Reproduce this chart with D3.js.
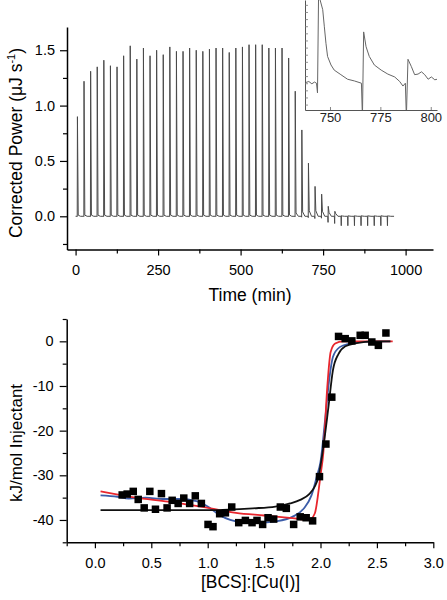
<!DOCTYPE html>
<html><head><meta charset="utf-8">
<script src="https://cdn.jsdelivr.net/npm/d3@7"></script>
<style>
body{margin:0;background:#fff}
text{font-family:"Liberation Sans",Arial,Helvetica,sans-serif}
</style>
</head><body>
<svg id="c" width="447" height="600"></svg>
<script>
// ---------- Top panel: thermogram ----------
const injTimes = [5,25,45,65,85,105,125,145,165,185,205,225,245,265,285,305,325,345,365,385,405,425,445,465,485,505,525,545,565,585,605,625,645,665,685,705,725,745,765,785,805,825,845,865,885,905,925,945];
const peakHeights = [0.90,1.22,1.31,1.35,1.41,1.36,1.35,1.45,1.54,1.42,1.52,1.45,1.50,1.46,1.53,1.49,1.49,1.52,1.50,1.49,1.51,1.52,1.52,1.48,1.52,1.53,1.55,1.55,1.55,1.52,1.52,1.52,1.43,1.13,0.78,0.48,0.27,0.20,0.09,0.045,0.006,0.005,0.006,0.005,0.006,0.005,0.006,0.005];
const dipDepths = [0.003,0.003,0.003,0.003,0.003,0.003,0.003,0.003,0.003,0.003,0.003,0.003,0.003,0.003,0.003,0.003,0.003,0.003,0.003,0.003,0.003,0.003,0.003,0.003,0.003,0.003,0.003,0.003,0.003,0.003,0.003,0.003,0.003,0.005,0.008,0.012,0.02,0.017,0.055,0.065,0.085,0.085,0.085,0.085,0.085,0.085,0.085,0.085];
const tailAt3 = [0.01,0.01,0.01,0.01,0.01,0.01,0.01,0.01,0.01,0.01,0.01,0.01,0.01,0.01,0.01,0.01,0.01,0.01,0.01,0.01,0.01,0.01,0.01,0.01,0.01,0.01,0.01,0.01,0.01,0.01,0.01,0.01,0.012,0.03,0.04,0.05,0.05,0.045,0.035,0.025,0.003,0.003,0.003,0.003,0.003,0.003,0.003,0.003];
const traceStart = 0, traceEnd = 965;
const topXTicks = [0,250,500,750,1000];
const topXMinor = [125,375,625,875];
const topYTicks = [0.0,0.5,1.0,1.5];
const topYMinor = [-0.25,0.25,0.75,1.25];

// ---------- Inset ----------
const insetTime  = [737.8,739.5,741.0,742.3,743.3,743.8,744.5,745.1,746.4,747.2,748.0,748.8,750.5,752.1,755.4,758.7,762.1,765.6,766.1,766.7,767.9,769.5,772.0,775.4,778.7,782.1,784.6,786.2,787.4,787.9,788.7,790.4,792.0,793.7,795.4,797.0,798.7,800.3,802.0,803.2];
const insetPower = [0.001,0.003,-0.001,0.002,0.000,-0.017,0.21,0.146,0.129,0.099,0.070,0.047,0.032,0.023,0.015,0.007,0.004,0.000,-0.06,0.090,0.064,0.047,0.032,0.023,0.016,0.011,0.003,-0.005,0.000,-0.06,0.042,0.029,0.015,0.016,0.020,0.015,0.007,0.011,0.006,0.007];
const insetXTicks = [750,775,800];
const insetYTicks = [-0.0375,-0.025,-0.0125,0,0.0125,0.025,0.0375,0.05,0.0625,0.075,0.0875,0.1,0.1125,0.125,0.1375];

// ---------- Bottom panel: binding isotherm ----------
const ratio = [0.242,0.286,0.34,0.384,0.437,0.487,0.537,0.59,0.64,0.685,0.738,0.788,0.84,0.89,0.944,1.003,1.047,1.106,1.157,1.213,1.275,1.334,1.393,1.437,1.487,1.535,1.585,1.644,1.697,1.762,1.82,1.873,1.93,1.991,2.048,2.10,2.16,2.219,2.278,2.352,2.396,2.455,2.513,2.58];
const heat  = [-34.4,-34.2,-33.6,-35.4,-37.3,-33.6,-37.6,-34.1,-37.3,-35.6,-36.3,-35.1,-36.3,-34.6,-36.3,-41.0,-41.5,-38.6,-38.4,-37.1,-40.6,-40.1,-40.6,-40.1,-41.0,-39.5,-39.8,-37.1,-37.4,-41.0,-39.3,-39.5,-40.2,-30.3,-23.0,-12.5,1.1,0.6,0.1,1.35,1.35,-0.15,-0.9,1.87];
const fitBlueX = [0.05,0.2,0.3,0.45,0.6,0.75,0.9,1.0,1.1,1.2,1.3,1.45,1.6,1.75,1.85,1.92,1.97,2.0,2.04,2.08,2.11,2.17,2.26,2.38,2.62];
const fitBlueY = [-34.5,-34.8,-35.2,-35.0,-35.3,-35.3,-35.8,-37.0,-38.8,-40.0,-40.5,-40.6,-40.3,-39.3,-37.5,-34.5,-30.0,-27.0,-17.8,-8.0,-3.5,-1.3,-0.5,-0.1,0.0];
const fitRedX = [0.05,0.36,0.65,0.98,1.25,1.5,1.75,1.9,1.95,1.98,2.0,2.025,2.06,2.09,2.13,2.2,2.64];
const fitRedY = [-33.6,-35.0,-35.9,-37.2,-38.4,-39.0,-39.6,-40.0,-38.5,-34.0,-30.0,-25.0,-10.3,-2.4,-0.5,0.0,0.0];
const fitBlackX = [0.05,1.0,1.4,1.6,1.73,1.82,1.9,1.95,1.98,2.025,2.07,2.11,2.16,2.22,2.32,2.47,2.62];
const fitBlackY = [-37.8,-37.8,-37.4,-37.0,-36.3,-35.5,-34.2,-32.5,-30.5,-23.7,-14.8,-6.5,-2.8,-1.1,-0.4,0.0,0.0];
const botXTicks = [0,0.5,1.0,1.5,2.0,2.5,3.0];
const botXMinor = [-0.25,0.25,0.75,1.25,1.75,2.25,2.75];
const botYTicks = [0,-10,-20,-30,-40];
const botYMinor = [5,-5,-15,-25,-35,-45];

// ============ drawing ============
const svg = d3.select("#c");

function styleAxis(g, w){
  g.select(".domain").attr("stroke","#000").attr("stroke-width",w||1.5);
  g.selectAll(".tick line").attr("stroke","#000").attr("stroke-width",1.2);
  g.selectAll(".tick text").attr("fill","#000").style("font-family",'"Liberation Sans",Arial,sans-serif');
}

// ----- top panel -----
const xT = d3.scaleLinear().domain([-26, 1083]).range([67, 433]);
const yT = d3.scaleLinear().domain([-0.3, 1.71]).range([249.5, 27]);

const trace = [[traceStart,0]];
injTimes.forEach((t,i)=>{
  trace.push([t-0.8,0],[t,-dipDepths[i]],[t+0.6,peakHeights[i]],[t+3,tailAt3[i]],[t+10,0]);
});
trace.push([traceEnd,0]);

svg.append("path").datum(trace)
  .attr("fill","none").attr("stroke","#4a4a4a").attr("stroke-width",1)
  .attr("d", d3.line().x(d=>xT(d[0])).y(d=>yT(d[1])));

const gTX = svg.append("g").attr("transform","translate(0,249.5)")
  .call(d3.axisBottom(xT).tickValues(topXTicks).tickSize(6).tickSizeOuter(0).tickPadding(9).tickFormat(d3.format("d")))
  .attr("font-size",14.5);
styleAxis(gTX);
const gTXm = svg.append("g").attr("transform","translate(0,249.5)")
  .call(d3.axisBottom(xT).tickValues(topXMinor).tickSize(4).tickSizeOuter(0).tickFormat(""));
gTXm.select(".domain").remove(); styleAxis(gTXm);

const gTY = svg.append("g").attr("transform","translate(67,0)")
  .call(d3.axisLeft(yT).tickValues(topYTicks).tickSize(7).tickSizeOuter(0).tickPadding(5).tickFormat(d3.format(".1f")))
  .attr("font-size",14.5);
styleAxis(gTY);
const gTYm = svg.append("g").attr("transform","translate(67,0)")
  .call(d3.axisLeft(yT).tickValues(topYMinor).tickSize(4).tickSizeOuter(0).tickFormat(""));
gTYm.select(".domain").remove(); styleAxis(gTYm);

svg.append("text").attr("x",250).attr("y",301).attr("text-anchor","middle")
  .attr("font-size",17.5).text("Time (min)");
const tyl = svg.append("text").attr("transform","translate(21.5,143) rotate(-90)")
  .attr("text-anchor","middle").attr("font-size",17.5);
tyl.append("tspan").text("Corrected Power (\u03BCJ s");
tyl.append("tspan").attr("font-size",11).attr("dy",-7).text("-1");
tyl.append("tspan").attr("dy",7).text(")");

// ----- inset -----
const xI = d3.scaleLinear().domain([737.6, 803.1]).range([305, 437]);
const yI = d3.scaleLinear().domain([-0.047, 0.146]).range([110, 0]);
svg.append("defs").append("clipPath").attr("id","insetClip")
  .append("rect").attr("x",305).attr("y",0).attr("width",132).attr("height",110);
svg.append("path").datum(d3.zip(insetTime, insetPower))
  .attr("clip-path","url(#insetClip)")
  .attr("fill","none").attr("stroke","#666").attr("stroke-width",1)
  .attr("d", d3.line().x(d=>xI(d[0])).y(d=>yI(d[1])));
const gIX = svg.append("g").attr("transform","translate(0,110)")
  .call(d3.axisBottom(xI).tickValues(insetXTicks).tickSize(-3).tickSizeOuter(0).tickPadding(3).tickFormat(d3.format("d")))
  .attr("font-size",13);
styleAxis(gIX,1);
gIX.selectAll(".tick line").attr("stroke","#666").attr("stroke-width",0.8);
gIX.select(".domain").attr("stroke","#555");
gIX.selectAll(".tick text").attr("fill","#222");
const gIY = svg.append("g").attr("transform","translate(305,0)")
  .call(d3.axisLeft(yI).tickValues(insetYTicks).tickSize(-3).tickSizeOuter(0).tickFormat(""));
styleAxis(gIY,1);
gIY.selectAll(".tick line").attr("stroke","#777").attr("stroke-width",0.8);
gIY.select(".domain").attr("stroke","#555");

// ----- bottom panel -----
const xB = d3.scaleLinear().domain([-0.25, 3.0]).range([66.7, 433.3]);
const yB = d3.scaleLinear().domain([-45, 5]).range([542.3, 319]);

const fitLine = d3.line().x(d=>xB(d[0])).y(d=>yB(d[1])).curve(d3.curveMonotoneX);
[[fitBlueX,fitBlueY,"#3b5ca8"],[fitRedX,fitRedY,"#e8262d"],[fitBlackX,fitBlackY,"#111"]].forEach(([xs,ys,c])=>{
  svg.append("path").datum(d3.zip(xs,ys))
    .attr("fill","none").attr("stroke",c).attr("stroke-width",1.8).attr("d",fitLine);
});

const sq = 7.5;
svg.append("g").selectAll("rect").data(d3.zip(ratio,heat)).join("rect")
  .attr("x",d=>xB(d[0])-sq/2).attr("y",d=>yB(d[1])-sq/2)
  .attr("width",sq).attr("height",sq).attr("fill","#000");

const gBX = svg.append("g").attr("transform","translate(0,542.3)")
  .call(d3.axisBottom(xB).tickValues(botXTicks).tickSize(6).tickSizeOuter(0).tickPadding(9).tickFormat(d3.format(".1f")))
  .attr("font-size",14.5);
styleAxis(gBX);
const gBXm = svg.append("g").attr("transform","translate(0,542.3)")
  .call(d3.axisBottom(xB).tickValues(botXMinor).tickSize(4).tickSizeOuter(0).tickFormat(""));
gBXm.select(".domain").remove(); styleAxis(gBXm);

const gBY = svg.append("g").attr("transform","translate(66.7,0)")
  .call(d3.axisLeft(yB).tickValues(botYTicks).tickSize(7).tickSizeOuter(0).tickPadding(6).tickFormat(d=>String(d)))
  .attr("font-size",14.5);
styleAxis(gBY);
const gBYm = svg.append("g").attr("transform","translate(66.7,0)")
  .call(d3.axisLeft(yB).tickValues(botYMinor).tickSize(4).tickSizeOuter(0).tickFormat(""));
gBYm.select(".domain").remove(); styleAxis(gBYm);

svg.append("text").attr("x",250.5).attr("y",588).attr("text-anchor","middle")
  .attr("font-size",17.5).text("[BCS]:[Cu(I)]");
svg.append("text").attr("transform","translate(21.5,443) rotate(-90)")
  .attr("text-anchor","middle").attr("font-size",17).text("kJ/mol Injectant");
</script>
</body></html>
